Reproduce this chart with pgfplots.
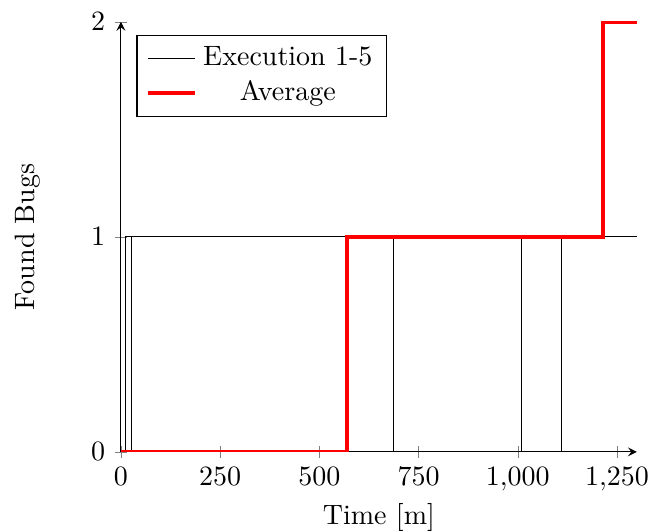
\documentclass[border=0pt]{standalone}
\usepackage{pgfplots}
\pgfplotsset{compat=1.18}
\begin{document}
\begin{tikzpicture}
\useasboundingbox (-43.2pt,-28.2pt) rectangle (189.7pt,161.4pt);
\begin{axis}[
  at={(0,0)}, anchor=south west,
  scale only axis,
  width=184.3pt, height=153.6pt,
  axis lines=left,
  xmin=0, xmax=1300, ymin=0, ymax=2,
  xtick={0,250,500,750,1000,1250},
  ytick={0,1,2},
  xlabel={Time [m]}, ylabel={Found Bugs},
  ylabel style={at={(axis description cs:-0.137,0.5)}, anchor=south},
  xlabel style={at={(axis description cs:0.5,-0.098)}, anchor=north},
  legend pos=north west,
  legend cell align=center,
  const plot,
]
\addplot[black, thin, no marks] coordinates {(0,0) (12,0) (12,1) (1300,1)};
\addlegendentry{Execution 1-5}
\addplot[black, thin, no marks, forget plot] coordinates {(0,0) (26,0) (26,1) (1300,1)};
\addplot[black, thin, no marks, forget plot] coordinates {(0,0) (687,0) (687,1) (1300,1)};
\addplot[black, thin, no marks, forget plot] coordinates {(0,0) (1010,0) (1010,1) (1300,1)};
\addplot[black, thin, no marks, forget plot] coordinates {(0,0) (1110,0) (1110,1) (1300,1)};
\addplot[red, ultra thick, no marks] coordinates {(0,0) (570,0) (570,1) (1215,1) (1215,2) (1300,2)};
\addlegendentry{Average}
\end{axis}
\end{tikzpicture}
\end{document}
